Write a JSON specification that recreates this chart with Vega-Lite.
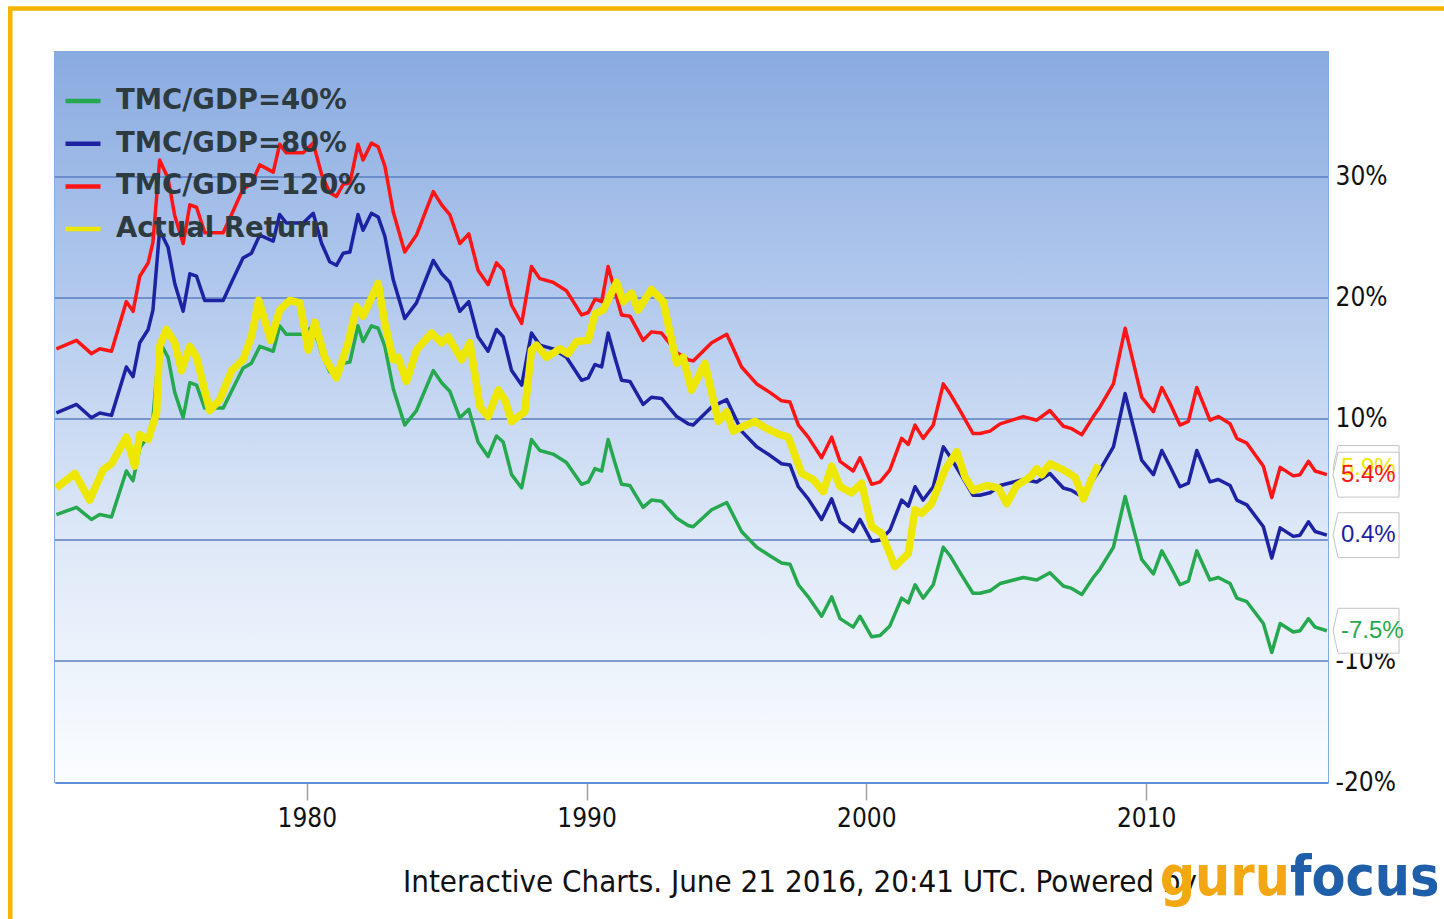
{
  "$schema": "https://vega.github.io/schema/vega-lite/v6.json",
  "width": 1273,
  "height": 730,
  "autosize": {"type": "none"},
  "padding": {"left": 55, "top": 52, "right": 116, "bottom": 137},
  "background": "white",
  "config": {
    "view": {"stroke": "#86ace3", "strokeWidth": 2},
    "font": "Liberation Sans",
    "legend": {
      "orient": "none", "legendX": 8, "legendY": 29, "title": null,
      "symbolType": "stroke", "symbolSize": 1225, "symbolStrokeWidth": 4.5, "labelLimit": 500,
      "labelFont": "DejaVu Sans", "labelFontSize": 27.5, "labelFontWeight": "bold",
      "labelColor": "#2d3a3f", "rowPadding": 8.7, "labelOffset": 13, "padding": 0
    }
  },
  "datasets": {
    "tmc": [
      {"year":1971.05,"TMC/GDP=40%":2.1,"TMC/GDP=80%":10.5,"TMC/GDP=120%":15.8},
      {"year":1971.77,"TMC/GDP=40%":2.7,"TMC/GDP=80%":11.2,"TMC/GDP=120%":16.5},
      {"year":1972.30,"TMC/GDP=40%":1.7,"TMC/GDP=80%":10.1,"TMC/GDP=120%":15.4},
      {"year":1972.60,"TMC/GDP=40%":2.1,"TMC/GDP=80%":10.5,"TMC/GDP=120%":15.8},
      {"year":1973.02,"TMC/GDP=40%":1.9,"TMC/GDP=80%":10.3,"TMC/GDP=120%":15.6},
      {"year":1973.55,"TMC/GDP=40%":5.7,"TMC/GDP=80%":14.3,"TMC/GDP=120%":19.7},
      {"year":1973.79,"TMC/GDP=40%":4.9,"TMC/GDP=80%":13.5,"TMC/GDP=120%":18.9},
      {"year":1974.03,"TMC/GDP=40%":7.6,"TMC/GDP=80%":16.3,"TMC/GDP=120%":21.8},
      {"year":1974.33,"TMC/GDP=40%":8.6,"TMC/GDP=80%":17.4,"TMC/GDP=120%":22.9},
      {"year":1974.50,"TMC/GDP=40%":10.1,"TMC/GDP=80%":19.0,"TMC/GDP=120%":24.6},
      {"year":1974.74,"TMC/GDP=40%":16.4,"TMC/GDP=80%":25.6,"TMC/GDP=120%":31.4},
      {"year":1975.04,"TMC/GDP=40%":15.1,"TMC/GDP=80%":24.2,"TMC/GDP=120%":29.9},
      {"year":1975.28,"TMC/GDP=40%":12.2,"TMC/GDP=80%":21.2,"TMC/GDP=120%":26.8},
      {"year":1975.58,"TMC/GDP=40%":10.1,"TMC/GDP=80%":18.9,"TMC/GDP=120%":24.5},
      {"year":1975.82,"TMC/GDP=40%":13.0,"TMC/GDP=80%":22.0,"TMC/GDP=120%":27.7},
      {"year":1976.06,"TMC/GDP=40%":12.8,"TMC/GDP=80%":21.8,"TMC/GDP=120%":27.5},
      {"year":1976.35,"TMC/GDP=40%":10.9,"TMC/GDP=80%":19.8,"TMC/GDP=120%":25.4},
      {"year":1977.01,"TMC/GDP=40%":10.9,"TMC/GDP=80%":19.8,"TMC/GDP=120%":25.4},
      {"year":1977.31,"TMC/GDP=40%":12.3,"TMC/GDP=80%":21.3,"TMC/GDP=120%":26.9},
      {"year":1977.72,"TMC/GDP=40%":14.2,"TMC/GDP=80%":23.3,"TMC/GDP=120%":29.0},
      {"year":1978.02,"TMC/GDP=40%":14.6,"TMC/GDP=80%":23.7,"TMC/GDP=120%":29.4},
      {"year":1978.32,"TMC/GDP=40%":16.0,"TMC/GDP=80%":25.2,"TMC/GDP=120%":31.0},
      {"year":1978.80,"TMC/GDP=40%":15.6,"TMC/GDP=80%":24.7,"TMC/GDP=120%":30.4},
      {"year":1979.03,"TMC/GDP=40%":17.7,"TMC/GDP=80%":26.9,"TMC/GDP=120%":32.7},
      {"year":1979.27,"TMC/GDP=40%":17.0,"TMC/GDP=80%":26.2,"TMC/GDP=120%":32.0},
      {"year":1979.87,"TMC/GDP=40%":17.0,"TMC/GDP=80%":26.2,"TMC/GDP=120%":32.0},
      {"year":1980.23,"TMC/GDP=40%":17.7,"TMC/GDP=80%":27.0,"TMC/GDP=120%":32.8},
      {"year":1980.53,"TMC/GDP=40%":15.4,"TMC/GDP=80%":24.5,"TMC/GDP=120%":30.2},
      {"year":1980.82,"TMC/GDP=40%":13.9,"TMC/GDP=80%":23.0,"TMC/GDP=120%":28.7},
      {"year":1981.06,"TMC/GDP=40%":13.7,"TMC/GDP=80%":22.7,"TMC/GDP=120%":28.4},
      {"year":1981.30,"TMC/GDP=40%":14.6,"TMC/GDP=80%":23.7,"TMC/GDP=120%":29.4},
      {"year":1981.54,"TMC/GDP=40%":14.7,"TMC/GDP=80%":23.8,"TMC/GDP=120%":29.5},
      {"year":1981.83,"TMC/GDP=40%":17.7,"TMC/GDP=80%":26.9,"TMC/GDP=120%":32.7},
      {"year":1982.01,"TMC/GDP=40%":16.4,"TMC/GDP=80%":25.6,"TMC/GDP=120%":31.4},
      {"year":1982.31,"TMC/GDP=40%":17.7,"TMC/GDP=80%":27.0,"TMC/GDP=120%":32.8},
      {"year":1982.55,"TMC/GDP=40%":17.5,"TMC/GDP=80%":26.7,"TMC/GDP=120%":32.5},
      {"year":1982.79,"TMC/GDP=40%":16.0,"TMC/GDP=80%":25.1,"TMC/GDP=120%":30.9},
      {"year":1983.09,"TMC/GDP=40%":12.5,"TMC/GDP=80%":21.5,"TMC/GDP=120%":27.1},
      {"year":1983.50,"TMC/GDP=40%":9.5,"TMC/GDP=80%":18.3,"TMC/GDP=120%":23.8},
      {"year":1983.92,"TMC/GDP=40%":10.7,"TMC/GDP=80%":19.6,"TMC/GDP=120%":25.2},
      {"year":1984.52,"TMC/GDP=40%":14.0,"TMC/GDP=80%":23.1,"TMC/GDP=120%":28.8},
      {"year":1984.82,"TMC/GDP=40%":13.0,"TMC/GDP=80%":22.0,"TMC/GDP=120%":27.7},
      {"year":1985.11,"TMC/GDP=40%":12.3,"TMC/GDP=80%":21.3,"TMC/GDP=120%":26.9},
      {"year":1985.47,"TMC/GDP=40%":10.1,"TMC/GDP=80%":18.9,"TMC/GDP=120%":24.5},
      {"year":1985.79,"TMC/GDP=40%":10.8,"TMC/GDP=80%":19.7,"TMC/GDP=120%":25.3},
      {"year":1986.12,"TMC/GDP=40%":8.1,"TMC/GDP=80%":16.8,"TMC/GDP=120%":22.3},
      {"year":1986.48,"TMC/GDP=40%":6.9,"TMC/GDP=80%":15.6,"TMC/GDP=120%":21.1},
      {"year":1986.78,"TMC/GDP=40%":8.6,"TMC/GDP=80%":17.4,"TMC/GDP=120%":22.9},
      {"year":1987.02,"TMC/GDP=40%":8.1,"TMC/GDP=80%":16.8,"TMC/GDP=120%":22.3},
      {"year":1987.32,"TMC/GDP=40%":5.4,"TMC/GDP=80%":14.0,"TMC/GDP=120%":19.4},
      {"year":1987.68,"TMC/GDP=40%":4.3,"TMC/GDP=80%":12.8,"TMC/GDP=120%":17.9},
      {"year":1988.03,"TMC/GDP=40%":8.3,"TMC/GDP=80%":17.1,"TMC/GDP=120%":22.6},
      {"year":1988.33,"TMC/GDP=40%":7.4,"TMC/GDP=80%":16.1,"TMC/GDP=120%":21.6},
      {"year":1988.80,"TMC/GDP=40%":7.1,"TMC/GDP=80%":15.8,"TMC/GDP=120%":21.3},
      {"year":1989.28,"TMC/GDP=40%":6.4,"TMC/GDP=80%":15.1,"TMC/GDP=120%":20.6},
      {"year":1989.82,"TMC/GDP=40%":4.6,"TMC/GDP=80%":13.2,"TMC/GDP=120%":18.6},
      {"year":1990.06,"TMC/GDP=40%":4.8,"TMC/GDP=80%":13.4,"TMC/GDP=120%":18.8},
      {"year":1990.30,"TMC/GDP=40%":5.9,"TMC/GDP=80%":14.5,"TMC/GDP=120%":19.9},
      {"year":1990.54,"TMC/GDP=40%":5.7,"TMC/GDP=80%":14.3,"TMC/GDP=120%":19.7},
      {"year":1990.77,"TMC/GDP=40%":8.3,"TMC/GDP=80%":17.1,"TMC/GDP=120%":22.6},
      {"year":1991.01,"TMC/GDP=40%":6.4,"TMC/GDP=80%":15.1,"TMC/GDP=120%":20.6},
      {"year":1991.25,"TMC/GDP=40%":4.6,"TMC/GDP=80%":13.2,"TMC/GDP=120%":18.6},
      {"year":1991.55,"TMC/GDP=40%":4.5,"TMC/GDP=80%":13.1,"TMC/GDP=120%":18.5},
      {"year":1992.02,"TMC/GDP=40%":2.7,"TMC/GDP=80%":11.2,"TMC/GDP=120%":16.5},
      {"year":1992.32,"TMC/GDP=40%":3.3,"TMC/GDP=80%":11.8,"TMC/GDP=120%":17.2},
      {"year":1992.68,"TMC/GDP=40%":3.2,"TMC/GDP=80%":11.7,"TMC/GDP=120%":17.1},
      {"year":1993.22,"TMC/GDP=40%":1.8,"TMC/GDP=80%":10.2,"TMC/GDP=120%":15.5},
      {"year":1993.63,"TMC/GDP=40%":1.2,"TMC/GDP=80%":9.6,"TMC/GDP=120%":14.9},
      {"year":1993.81,"TMC/GDP=40%":1.1,"TMC/GDP=80%":9.5,"TMC/GDP=120%":14.8},
      {"year":1994.47,"TMC/GDP=40%":2.5,"TMC/GDP=80%":11.0,"TMC/GDP=120%":16.3},
      {"year":1995.01,"TMC/GDP=40%":3.1,"TMC/GDP=80%":11.6,"TMC/GDP=120%":17.0},
      {"year":1995.54,"TMC/GDP=40%":0.7,"TMC/GDP=80%":9.0,"TMC/GDP=120%":14.3},
      {"year":1996.08,"TMC/GDP=40%":-0.6,"TMC/GDP=80%":7.7,"TMC/GDP=120%":12.9},
      {"year":1996.55,"TMC/GDP=40%":-1.3,"TMC/GDP=80%":7.0,"TMC/GDP=120%":12.2},
      {"year":1996.97,"TMC/GDP=40%":-1.9,"TMC/GDP=80%":6.3,"TMC/GDP=120%":11.5},
      {"year":1997.27,"TMC/GDP=40%":-2.0,"TMC/GDP=80%":6.2,"TMC/GDP=120%":11.4},
      {"year":1997.57,"TMC/GDP=40%":-3.7,"TMC/GDP=80%":4.4,"TMC/GDP=120%":9.5},
      {"year":1997.92,"TMC/GDP=40%":-4.7,"TMC/GDP=80%":3.4,"TMC/GDP=120%":8.5},
      {"year":1998.40,"TMC/GDP=40%":-6.3,"TMC/GDP=80%":1.7,"TMC/GDP=120%":6.8},
      {"year":1998.76,"TMC/GDP=40%":-4.7,"TMC/GDP=80%":3.4,"TMC/GDP=120%":8.5},
      {"year":1999.06,"TMC/GDP=40%":-6.5,"TMC/GDP=80%":1.5,"TMC/GDP=120%":6.5},
      {"year":1999.53,"TMC/GDP=40%":-7.2,"TMC/GDP=80%":0.7,"TMC/GDP=120%":5.7},
      {"year":1999.77,"TMC/GDP=40%":-6.3,"TMC/GDP=80%":1.7,"TMC/GDP=120%":6.8},
      {"year":2000.19,"TMC/GDP=40%":-8.0,"TMC/GDP=80%":-0.1,"TMC/GDP=120%":4.6},
      {"year":2000.49,"TMC/GDP=40%":-7.9,"TMC/GDP=80%":0.0,"TMC/GDP=120%":4.8},
      {"year":2000.84,"TMC/GDP=40%":-7.1,"TMC/GDP=80%":0.8,"TMC/GDP=120%":5.8},
      {"year":2001.26,"TMC/GDP=40%":-4.8,"TMC/GDP=80%":3.3,"TMC/GDP=120%":8.4},
      {"year":2001.50,"TMC/GDP=40%":-5.2,"TMC/GDP=80%":2.8,"TMC/GDP=120%":7.9},
      {"year":2001.74,"TMC/GDP=40%":-3.7,"TMC/GDP=80%":4.4,"TMC/GDP=120%":9.5},
      {"year":2002.03,"TMC/GDP=40%":-4.8,"TMC/GDP=80%":3.3,"TMC/GDP=120%":8.4},
      {"year":2002.39,"TMC/GDP=40%":-3.7,"TMC/GDP=80%":4.4,"TMC/GDP=120%":9.5},
      {"year":2002.75,"TMC/GDP=40%":-0.6,"TMC/GDP=80%":7.7,"TMC/GDP=120%":12.9},
      {"year":2002.99,"TMC/GDP=40%":-1.3,"TMC/GDP=80%":6.9,"TMC/GDP=120%":12.1},
      {"year":2003.35,"TMC/GDP=40%":-2.7,"TMC/GDP=80%":5.5,"TMC/GDP=120%":10.7},
      {"year":2003.81,"TMC/GDP=40%":-4.4,"TMC/GDP=80%":3.7,"TMC/GDP=120%":8.8},
      {"year":2004.06,"TMC/GDP=40%":-4.4,"TMC/GDP=80%":3.7,"TMC/GDP=120%":8.8},
      {"year":2004.42,"TMC/GDP=40%":-4.2,"TMC/GDP=80%":3.9,"TMC/GDP=120%":9.0},
      {"year":2004.78,"TMC/GDP=40%":-3.6,"TMC/GDP=80%":4.5,"TMC/GDP=120%":9.6},
      {"year":2005.61,"TMC/GDP=40%":-3.1,"TMC/GDP=80%":5.0,"TMC/GDP=120%":10.2},
      {"year":2006.09,"TMC/GDP=40%":-3.3,"TMC/GDP=80%":4.8,"TMC/GDP=120%":9.9},
      {"year":2006.56,"TMC/GDP=40%":-2.7,"TMC/GDP=80%":5.5,"TMC/GDP=120%":10.7},
      {"year":2007.04,"TMC/GDP=40%":-3.8,"TMC/GDP=80%":4.3,"TMC/GDP=120%":9.4},
      {"year":2007.34,"TMC/GDP=40%":-4.0,"TMC/GDP=80%":4.1,"TMC/GDP=120%":9.2},
      {"year":2007.70,"TMC/GDP=40%":-4.5,"TMC/GDP=80%":3.6,"TMC/GDP=120%":8.7},
      {"year":2008.11,"TMC/GDP=40%":-3.1,"TMC/GDP=80%":5.0,"TMC/GDP=120%":10.2},
      {"year":2008.35,"TMC/GDP=40%":-2.4,"TMC/GDP=80%":5.8,"TMC/GDP=120%":11.0},
      {"year":2008.83,"TMC/GDP=40%":-0.6,"TMC/GDP=80%":7.7,"TMC/GDP=120%":12.9},
      {"year":2009.25,"TMC/GDP=40%":3.6,"TMC/GDP=80%":12.1,"TMC/GDP=120%":17.5},
      {"year":2009.54,"TMC/GDP=40%":1.0,"TMC/GDP=80%":9.4,"TMC/GDP=120%":14.7},
      {"year":2009.84,"TMC/GDP=40%":-1.6,"TMC/GDP=80%":6.6,"TMC/GDP=120%":11.8},
      {"year":2010.26,"TMC/GDP=40%":-2.8,"TMC/GDP=80%":5.4,"TMC/GDP=120%":10.6},
      {"year":2010.56,"TMC/GDP=40%":-0.9,"TMC/GDP=80%":7.4,"TMC/GDP=120%":12.6},
      {"year":2010.85,"TMC/GDP=40%":-2.1,"TMC/GDP=80%":6.1,"TMC/GDP=120%":11.3},
      {"year":2011.21,"TMC/GDP=40%":-3.7,"TMC/GDP=80%":4.4,"TMC/GDP=120%":9.5},
      {"year":2011.51,"TMC/GDP=40%":-3.4,"TMC/GDP=80%":4.7,"TMC/GDP=120%":9.8},
      {"year":2011.81,"TMC/GDP=40%":-0.9,"TMC/GDP=80%":7.4,"TMC/GDP=120%":12.6},
      {"year":2012.28,"TMC/GDP=40%":-3.3,"TMC/GDP=80%":4.8,"TMC/GDP=120%":9.9},
      {"year":2012.58,"TMC/GDP=40%":-3.1,"TMC/GDP=80%":5.0,"TMC/GDP=120%":10.2},
      {"year":2013.00,"TMC/GDP=40%":-3.6,"TMC/GDP=80%":4.5,"TMC/GDP=120%":9.6},
      {"year":2013.24,"TMC/GDP=40%":-4.8,"TMC/GDP=80%":3.3,"TMC/GDP=120%":8.4},
      {"year":2013.60,"TMC/GDP=40%":-5.1,"TMC/GDP=80%":2.9,"TMC/GDP=120%":8.0},
      {"year":2014.19,"TMC/GDP=40%":-6.9,"TMC/GDP=80%":1.1,"TMC/GDP=120%":6.1},
      {"year":2014.49,"TMC/GDP=40%":-9.3,"TMC/GDP=80%":-1.5,"TMC/GDP=120%":3.5},
      {"year":2014.79,"TMC/GDP=40%":-6.9,"TMC/GDP=80%":1.0,"TMC/GDP=120%":6.0},
      {"year":2015.26,"TMC/GDP=40%":-7.6,"TMC/GDP=80%":0.3,"TMC/GDP=120%":5.3},
      {"year":2015.50,"TMC/GDP=40%":-7.5,"TMC/GDP=80%":0.4,"TMC/GDP=120%":5.4},
      {"year":2015.80,"TMC/GDP=40%":-6.5,"TMC/GDP=80%":1.5,"TMC/GDP=120%":6.5},
      {"year":2016.04,"TMC/GDP=40%":-7.2,"TMC/GDP=80%":0.7,"TMC/GDP=120%":5.7},
      {"year":2016.46,"TMC/GDP=40%":-7.5,"TMC/GDP=80%":0.4,"TMC/GDP=120%":5.4}
    ],
    "actual": [
      {"year":1971.05,"value":4.3},{"year":1971.71,"value":5.5},{"year":1972.24,"value":3.3},
      {"year":1972.72,"value":5.8},{"year":1973.02,"value":6.3},{"year":1973.55,"value":8.5},
      {"year":1973.85,"value":6.1},{"year":1974.03,"value":8.7},{"year":1974.33,"value":8.3},
      {"year":1974.63,"value":10.5},{"year":1974.74,"value":16.0},{"year":1974.98,"value":17.4},
      {"year":1975.28,"value":16.3},{"year":1975.52,"value":14.0},{"year":1975.82,"value":16.0},
      {"year":1976.06,"value":15.1},{"year":1976.53,"value":10.7},{"year":1976.89,"value":11.6},
      {"year":1977.31,"value":14.0},{"year":1977.72,"value":14.9},{"year":1978.02,"value":16.8},
      {"year":1978.28,"value":19.8},{"year":1978.71,"value":16.5},{"year":1979.03,"value":19.0},
      {"year":1979.39,"value":19.8},{"year":1979.75,"value":19.6},{"year":1980.05,"value":15.7},
      {"year":1980.29,"value":18.0},{"year":1980.64,"value":15.1},{"year":1981.06,"value":13.4},
      {"year":1981.48,"value":16.3},{"year":1981.78,"value":19.3},{"year":1982.01,"value":18.5},
      {"year":1982.55,"value":21.2},{"year":1982.79,"value":17.9},{"year":1983.09,"value":14.9},
      {"year":1983.26,"value":15.1},{"year":1983.56,"value":13.1},{"year":1983.92,"value":15.7},
      {"year":1984.46,"value":17.1},{"year":1984.82,"value":16.3},{"year":1985.05,"value":16.8},
      {"year":1985.53,"value":14.9},{"year":1985.83,"value":16.3},{"year":1986.19,"value":11.0},
      {"year":1986.48,"value":10.2},{"year":1986.84,"value":12.4},{"year":1987.08,"value":11.6},
      {"year":1987.32,"value":9.8},{"year":1987.79,"value":10.6},{"year":1988.03,"value":15.7},
      {"year":1988.21,"value":16.1},{"year":1988.57,"value":15.1},{"year":1989.05,"value":15.8},
      {"year":1989.34,"value":15.4},{"year":1989.64,"value":16.4},{"year":1990.06,"value":16.5},
      {"year":1990.30,"value":18.7},{"year":1990.59,"value":19.0},{"year":1991.07,"value":21.3},
      {"year":1991.31,"value":19.7},{"year":1991.61,"value":20.4},{"year":1991.84,"value":19.0},
      {"year":1992.32,"value":20.7},{"year":1992.74,"value":19.7},{"year":1993.22,"value":14.6},
      {"year":1993.45,"value":15.1},{"year":1993.75,"value":12.4},{"year":1994.23,"value":14.6},
      {"year":1994.71,"value":9.8},{"year":1995.01,"value":10.6},{"year":1995.24,"value":9.0},
      {"year":1995.60,"value":9.4},{"year":1996.02,"value":9.8},{"year":1996.44,"value":9.2},
      {"year":1996.91,"value":8.7},{"year":1997.21,"value":8.5},{"year":1997.69,"value":5.5},
      {"year":1998.10,"value":5.0},{"year":1998.46,"value":4.0},{"year":1998.76,"value":6.1},
      {"year":1999.06,"value":4.4},{"year":1999.47,"value":3.9},{"year":1999.83,"value":4.7},
      {"year":2000.19,"value":1.1},{"year":2000.55,"value":0.55},{"year":2001.02,"value":-2.2},
      {"year":2001.50,"value":-1.1},{"year":2001.74,"value":2.5},{"year":2001.98,"value":2.2},
      {"year":2002.33,"value":3.0},{"year":2002.81,"value":5.8},{"year":2003.23,"value":7.3},
      {"year":2003.53,"value":5.2},{"year":2003.82,"value":4.1},{"year":2004.30,"value":4.5},
      {"year":2004.72,"value":4.3},{"year":2005.02,"value":3.0},{"year":2005.37,"value":4.5},
      {"year":2005.85,"value":5.2},{"year":2006.09,"value":5.9},{"year":2006.27,"value":5.4},
      {"year":2006.56,"value":6.3},{"year":2007.04,"value":5.8},{"year":2007.46,"value":5.2},
      {"year":2007.76,"value":3.4},{"year":2008.06,"value":5.1},{"year":2008.29,"value":6.2}
    ],
    "flags": [
      {"series":"Actual Return","label":"5.9%","value":5.95},
      {"series":"TMC/GDP=120%","label":"5.4%","value":5.4},
      {"series":"TMC/GDP=80%","label":"0.4%","value":0.4},
      {"series":"TMC/GDP=40%","label":"-7.5%","value":-7.5}
    ],
    "grid": [{"v":-10},{"v":0},{"v":10},{"v":20},{"v":30}],
    "one": [{}]
  },
  "layer": [
    {
      "data": {"name": "one"},
      "mark": {
        "type": "rect",
        "color": {
          "gradient": "linear", "x1": 0, "y1": 0, "x2": 0, "y2": 1,
          "stops": [
            {"offset": 0, "color": "#8aabe0"},
            {"offset": 0.3, "color": "#aec6ec"},
            {"offset": 0.65, "color": "#dce7f7"},
            {"offset": 1, "color": "#fbfdff"}
          ]
        }
      },
      "encoding": {
        "x": {"datum": 1971, "type": "quantitative"},
        "x2": {"datum": 2016.5},
        "y": {"datum": 40.33, "type": "quantitative"},
        "y2": {"datum": -20}
      }
    },
    {
      "data": {"name": "grid"},
      "mark": {"type": "rule", "color": "#5b7dc0", "strokeWidth": 1.5},
      "encoding": {
        "y": {"field": "v", "type": "quantitative"}
      }
    },
    {
      "data": {"name": "tmc"},
      "transform": [
        {"fold": ["TMC/GDP=40%", "TMC/GDP=80%", "TMC/GDP=120%"], "as": ["series", "value"]}
      ],
      "mark": {"type": "line", "strokeJoin": "round", "strokeWidth": 3.5},
      "encoding": {
        "x": {
          "field": "year", "type": "quantitative",
          "scale": {"domain": [1971, 2016.5], "nice": false, "zero": false},
          "axis": {
            "title": null, "values": [1980, 1990, 2000, 2010], "format": "d",
            "labelFont": "DejaVu Sans Condensed, Liberation Sans", "labelFontSize": 26, "labelColor": "#111111",
            "tickColor": "#a0a0a0", "tickSize": 18, "tickWidth": 1.5,
            "domainColor": "#5d8fd8", "domainWidth": 3, "labelPadding": 5, "grid": false
          }
        },
        "y": {
          "field": "value", "type": "quantitative",
          "scale": {"domain": [-20, 40.33], "nice": false, "zero": false},
          "axis": {
            "title": null, "orient": "right", "values": [-20, -10, 0, 10, 20, 30],
            "labelExpr": "datum.value + '%'", "labelFont": "DejaVu Sans Condensed, Liberation Sans",
            "labelFontSize": 26, "labelColor": "#111111", "ticks": false,
            "domain": false, "grid": false, "labelPadding": 7
          }
        },
        "color": {
          "field": "series", "type": "nominal",
          "scale": {
            "domain": ["TMC/GDP=40%", "TMC/GDP=80%", "TMC/GDP=120%", "Actual Return"],
            "range": ["#26a84f", "#1c22a2", "#ff1515", "#eee800"]
          }
        }
      }
    },
    {
      "data": {"name": "actual"},
      "mark": {"type": "line", "strokeJoin": "round", "strokeWidth": 7.5},
      "encoding": {
        "x": {"field": "year", "type": "quantitative"},
        "y": {"field": "value", "type": "quantitative"},
        "color": {"datum": "Actual Return", "type": "nominal"}
      }
    },
    {
      "data": {"name": "flags"},
      "mark": {
        "type": "point", "filled": true, "fill": "white", "fillOpacity": 1,
        "stroke": "#c4c4c4", "strokeWidth": 1, "size": 4356,
        "shape": "M-0.85,-0.68L1,-0.68L1,0.68L-0.85,0.68L-1,0Z"
      },
      "encoding": {
        "x": {"datum": 2017.86, "type": "quantitative"},
        "y": {"field": "value", "type": "quantitative"}
      }
    },
    {
      "data": {"name": "flags"},
      "transform": [{"filter": "datum.series == 'Actual Return'"}],
      "mark": {"type": "text", "align": "left", "baseline": "middle", "dx": 13, "font": "Liberation Sans", "fontSize": 24, "color": "#eee800"},
      "encoding": {
        "x": {"datum": 2016.5, "type": "quantitative"},
        "y": {"field": "value", "type": "quantitative"},
        "text": {"field": "label"}
      }
    },
    {
      "data": {"name": "flags"},
      "transform": [{"filter": "datum.series == 'TMC/GDP=120%'"}],
      "mark": {"type": "text", "align": "left", "baseline": "middle", "dx": 13, "font": "Liberation Sans", "fontSize": 24, "color": "#ff1515"},
      "encoding": {
        "x": {"datum": 2016.5, "type": "quantitative"},
        "y": {"field": "value", "type": "quantitative"},
        "text": {"field": "label"}
      }
    },
    {
      "data": {"name": "flags"},
      "transform": [{"filter": "datum.series == 'TMC/GDP=80%'"}],
      "mark": {"type": "text", "align": "left", "baseline": "middle", "dx": 13, "font": "Liberation Sans", "fontSize": 24, "color": "#1c22a2"},
      "encoding": {
        "x": {"datum": 2016.5, "type": "quantitative"},
        "y": {"field": "value", "type": "quantitative"},
        "text": {"field": "label"}
      }
    },
    {
      "data": {"name": "flags"},
      "transform": [{"filter": "datum.series == 'TMC/GDP=40%'"}],
      "mark": {"type": "text", "align": "left", "baseline": "middle", "dx": 13, "font": "Liberation Sans", "fontSize": 24, "color": "#26a84f"},
      "encoding": {
        "x": {"datum": 2016.5, "type": "quantitative"},
        "y": {"field": "value", "type": "quantitative"},
        "text": {"field": "label"}
      }
    },
    {
      "data": {"name": "one"},
      "mark": {"type": "text", "text": "Interactive Charts. June 21 2016, 20:41 UTC. Powered by", "align": "center", "baseline": "alphabetic", "font": "DejaVu Sans Condensed, Liberation Sans", "fontSize": 31, "color": "#111111"},
      "encoding": {
        "x": {"datum": 1997.63, "type": "quantitative"},
        "y": {"datum": -29.1, "type": "quantitative"}
      }
    },
    {
      "data": {"name": "one"},
      "mark": {"type": "text", "text": "guru", "align": "right", "baseline": "alphabetic", "font": "DejaVu Sans Condensed, Liberation Sans", "fontWeight": "bold", "fontSize": 55, "color": "#f3a712"},
      "encoding": {
        "x": {"datum": 2015.14, "type": "quantitative"},
        "y": {"datum": -29.3, "type": "quantitative"}
      }
    },
    {
      "data": {"name": "one"},
      "mark": {"type": "text", "text": "focus", "align": "left", "baseline": "alphabetic", "font": "DejaVu Sans Condensed, Liberation Sans", "fontWeight": "bold", "fontSize": 55, "color": "#1f5ea8"},
      "encoding": {
        "x": {"datum": 2015.14, "type": "quantitative"},
        "y": {"datum": -29.3, "type": "quantitative"}
      }
    },
    {
      "data": {"name": "one"},
      "mark": {"type": "rect", "fillOpacity": 0, "stroke": "#f5b400", "strokeWidth": 4.5},
      "encoding": {
        "x": {"datum": 1969.4, "type": "quantitative"},
        "x2": {"datum": 2023},
        "y": {"datum": 43.93, "type": "quantitative"},
        "y2": {"datum": -32}
      }
    }
  ]
}
